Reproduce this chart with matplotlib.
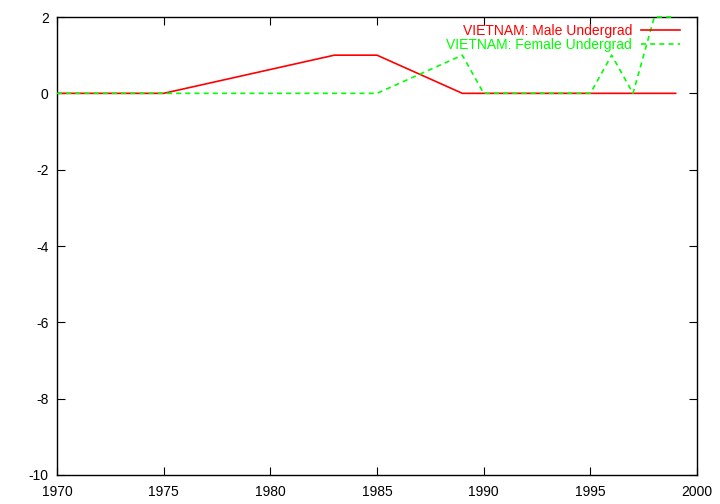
import matplotlib
matplotlib.use("Agg")
import matplotlib.pyplot as plt

# データ
years_male = [1970, 1975, 1983, 1985, 1989, 1990, 1995, 1999]
male = [0, 0, 1, 1, 0, 0, 0, 0]

years_female = [1970, 1975, 1985, 1989, 1990, 1995, 1996, 1997, 1998, 1999]
female = [0, 0, 0, 1, 0, 0, 1, 0, 2, 2]

label_male = "VIETNAM: Male Undergrad"
label_female = "VIETNAM: Female Undergrad"

xticks = [1970, 1975, 1980, 1985, 1990, 1995, 2000]
yticks = [-10, -8, -6, -4, -2, 0, 2]

plt.rcParams['font.family'] = ['Liberation Sans', 'DejaVu Sans']
plt.rcParams['axes.unicode_minus'] = False

fig = plt.figure(figsize=(7.2, 5.04), dpi=100)
ax = fig.add_axes([57/720, 29/504, 640/720, 458/504])

ax.plot(years_male, male, color="#ff0000", lw=1.2, label=label_male)
ax.plot(years_female, female, color="#00ff00", lw=1.2, ls=(0, (3, 2.5)),
        label=label_female, clip_on=False, zorder=3)

ax.set_xlim(1970, 2000)
ax.set_ylim(-10, 2)
ax.set_xticks(xticks)
ax.set_yticks(yticks)
ax.tick_params(direction="in", top=True, right=True, length=6, labelsize=10)
ax.tick_params(axis="x", pad=7)
ax.tick_params(axis="y", pad=6)
for s in ax.spines.values():
    s.set_linewidth(1.0)

leg = ax.legend(loc="upper right", frameon=False, markerfirst=False,
                labelcolor="linecolor", fontsize=10, handlelength=2.8,
                bbox_to_anchor=(680/720, 480/504), bbox_transform=fig.transFigure,
                borderaxespad=0, borderpad=0, labelspacing=0.0, handletextpad=0.65)

fig.savefig("out.png", dpi=100)
